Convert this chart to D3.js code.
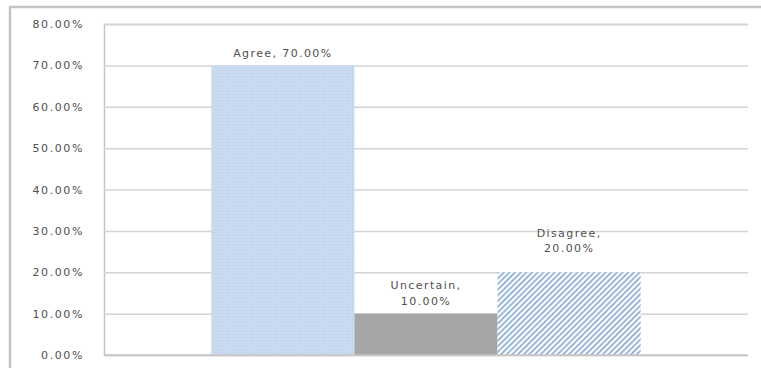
<!DOCTYPE html>
<html><head><meta charset="utf-8">
<script src="https://cdn.jsdelivr.net/npm/d3@7"></script>
<style>body{margin:0;background:#fff}svg{display:block}text{font-family:"DejaVu Sans",Verdana,sans-serif;fill:#505050}</style>
</head><body>
<script>
const categories = ["Agree", "Uncertain", "Disagree"];
const values = [0.70, 0.10, 0.20];
const labelLines = [["Agree, 70.00%"], ["Uncertain,", "10.00%"], ["Disagree,", "20.00%"]];
const tickValues = [0, 0.1, 0.2, 0.3, 0.4, 0.5, 0.6, 0.7, 0.8];

// layout: gap between label baseline and bar top
const labelGap = [8, 9, 20];

const W = 761, H = 368;
const m = {left: 104, right: 13, top: 24, bottom: 13};
const svg = d3.select("body").append("svg").attr("width", W).attr("height", H);

const defs = svg.append("defs");
const p1 = defs.append("pattern").attr("id","dots").attr("patternUnits","userSpaceOnUse").attr("width",3).attr("height",3);
p1.append("rect").attr("width",3).attr("height",3).attr("fill","#c9dbf0");
p1.append("rect").attr("x",1).attr("y",1).attr("width",1).attr("height",1).attr("fill","#b7cce7");
const p2 = defs.append("pattern").attr("id","hatch").attr("patternUnits","userSpaceOnUse").attr("width",4).attr("height",4).attr("patternTransform","rotate(45)");
p2.append("rect").attr("width",4).attr("height",4).attr("fill","#ffffff");
p2.append("rect").attr("width",1.6).attr("height",4).attr("fill","#82a7d4");
const fills = ["url(#dots)", "#a6a6a6", "url(#hatch)"];

// frame
svg.append("path").attr("d",`M10,${H} L10,7 L${W},7`).attr("fill","none").attr("stroke","#c4c4c4").attr("stroke-width",2.5);

const y = d3.scaleLinear().domain([0,0.8]).range([H-m.bottom, m.top]);
const x = d3.scaleBand().domain(categories).range([m.left, W-m.right]).paddingInner(0).paddingOuter(0.75);

const yAxis = svg.append("g").attr("transform",`translate(${m.left},0)`)
  .call(d3.axisLeft(y).tickValues(tickValues).tickFormat(d3.format(".2%")).tickSize(-(W-m.left-m.right)).tickPadding(20));
yAxis.select(".domain").attr("stroke","#c4c4c4").attr("stroke-width",1.5);
yAxis.selectAll(".tick line").attr("stroke","#d4d4d4").attr("stroke-width",1.5);
yAxis.selectAll(".tick text").style("font-size","11px").style("letter-spacing","1.6px").attr("fill","#505050");

svg.selectAll("rect.bar").data(values).join("rect").attr("class","bar")
  .attr("x",(d,i)=>x(categories[i])).attr("width",x.bandwidth())
  .attr("y",d=>y(d)).attr("height",d=>y(0)-y(d)).attr("fill",(d,i)=>fills[i]);

svg.append("line").attr("x1",m.left).attr("x2",W-m.right).attr("y1",y(0)).attr("y2",y(0)).attr("stroke","#c4c4c4").attr("stroke-width",1.5);

labelLines.forEach((lines,i)=>{
  const cx = x(categories[i]) + x.bandwidth()/2;
  const top = y(values[i]) - labelGap[i] - (lines.length-1)*15.5;
  lines.forEach((t,j)=>{
    svg.append("text").attr("x",cx).attr("y",top + j*15.5).attr("text-anchor","middle")
      .style("font-size","11px").style("letter-spacing","1.4px").text(t);
  });
});
</script>
</body></html>
